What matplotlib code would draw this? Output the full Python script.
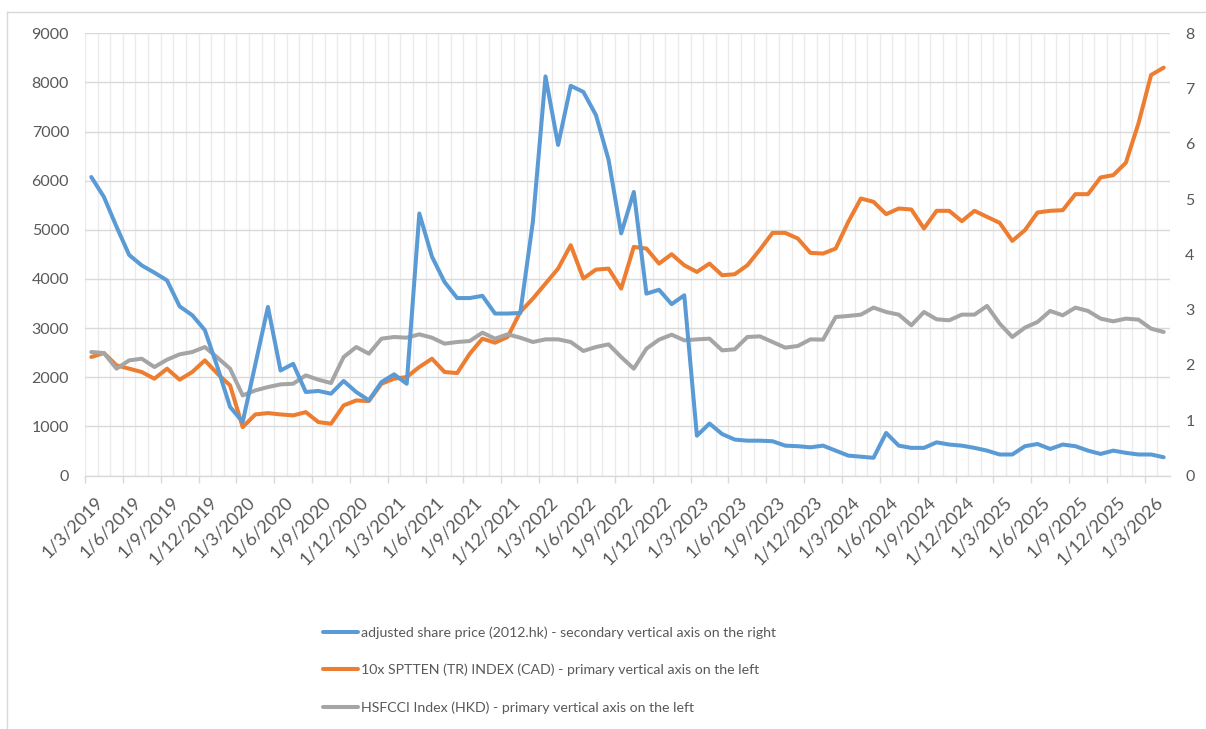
import numpy as np
import pandas as pd
import matplotlib
matplotlib.use("Agg")
import matplotlib.pyplot as plt
from matplotlib.lines import Line2D
from matplotlib.transforms import ScaledTranslation

plt.rcParams['font.family'] = ['Lato', 'DejaVu Sans']

# ---- data ----
dates = pd.date_range("2019-03-01", "2026-04-01", freq="MS")
tick_labels = [f"{d.day}/{d.month}/{d.year}" for d in dates]

share_price = [5.40, 5.04, 4.50, 3.99, 3.80, 3.67, 3.53, 3.06, 2.90, 2.63,
               1.96, 1.24, 0.97, 2.01, 3.05, 1.90, 2.02, 1.51, 1.53, 1.48,
               1.71, 1.51, 1.36, 1.69, 1.83, 1.66, 4.74, 3.96, 3.50, 3.21,
               3.21, 3.25, 2.93, 2.93, 2.94, 4.59, 7.22, 5.98, 7.05, 6.94,
               6.52, 5.71, 4.38, 5.13, 3.29, 3.36, 3.10, 3.26, 0.72, 0.94,
               0.75, 0.65, 0.63, 0.63, 0.62, 0.54, 0.53, 0.51, 0.54, 0.45,
               0.36, 0.34, 0.32, 0.77, 0.54, 0.50, 0.50, 0.60, 0.56, 0.54,
               0.50, 0.45, 0.38, 0.38, 0.53, 0.57, 0.48, 0.56, 0.53, 0.45,
               0.39, 0.45, 0.41, 0.38, 0.38, 0.33]

sptten_10x = [2411, 2493, 2242, 2174, 2106, 1970, 2174, 1950, 2106, 2343,
              2072, 1834, 985, 1243, 1270, 1243, 1223, 1290, 1087, 1053,
              1426, 1528, 1515, 1868, 1970, 2004, 2208, 2377, 2106, 2085,
              2479, 2785, 2703, 2819, 3328, 3600, 3906, 4211, 4687, 4008,
              4191, 4211, 3804, 4653, 4619, 4313, 4504, 4279, 4143, 4313,
              4076, 4096, 4279, 4599, 4938, 4938, 4823, 4531, 4517, 4619,
              5162, 5638, 5570, 5319, 5434, 5414, 5027, 5387, 5387, 5176,
              5387, 5264, 5142, 4775, 4993, 5353, 5387, 5400, 5726, 5726,
              6066, 6113, 6365, 7166, 8151, 8301]

hsfcci = [2513, 2493, 2174, 2343, 2377, 2208, 2357, 2466, 2513, 2615,
          2398, 2174, 1630, 1732, 1800, 1854, 1868, 2038, 1950, 1882,
          2411, 2615, 2479, 2785, 2819, 2805, 2873, 2805, 2683, 2717,
          2737, 2907, 2785, 2873, 2805, 2717, 2771, 2771, 2717, 2534,
          2615, 2669, 2411, 2174, 2581, 2765, 2866, 2751, 2771, 2785,
          2547, 2568, 2819, 2832, 2717, 2602, 2636, 2771, 2765, 3226,
          3247, 3274, 3417, 3328, 3274, 3057, 3328, 3179, 3159, 3274,
          3274, 3451, 3091, 2819, 3009, 3125, 3349, 3260, 3417, 3349,
          3193, 3138, 3193, 3172, 2989, 2921]

series_names = ["adjusted share price (2012.hk) - secondary vertical axis on the right",
                "10x SPTTEN (TR) INDEX (CAD) - primary vertical axis on the left",
                "HSFCCI Index (HKD) - primary vertical axis on the left"]
colors = ["#5B9BD5", "#ED7D31", "#A5A5A5"]

# ---- figure ----
W, H = 1206, 729
fig = plt.figure(figsize=(W / 100, H / 100), dpi=100)
L, R, T, B = 85, 1170, 33.3, 475.5
ax = fig.add_axes([L / W, 1 - B / H, (R - L) / W, (B - T) / H])
x = np.arange(len(dates))
n = len(dates)

lw = 2.9
kw = dict(solid_capstyle='round', solid_joinstyle='round', lw=lw)
l2, = ax.plot(x, sptten_10x, color=colors[1], **kw)
l3, = ax.plot(x, hsfcci, color=colors[2], **kw)
ax.set_xlim(-0.5, n - 0.5)
ax.set_ylim(0, 9000)
ax.tick_params(axis='both', which='both', length=0, colors='#595959')
ax.tick_params(axis='y', pad=11.5, labelsize=11.5)
ax.set_yticks(np.arange(0, 9001, 1000))
ax.set_xticks(np.arange(-0.5, n, 1), minor=True)
ax.set_xticks([])
ax.grid(axis='y', which='major', color='#D9D9D9', lw=1)
ax.grid(axis='x', which='minor', color='#EBEBEB', lw=1)
ax.set_axisbelow(True)
for s in ['top', 'left', 'right']:
    ax.spines[s].set_visible(False)
ax.spines['bottom'].set_color('#D9D9D9')
ax.spines['bottom'].set_linewidth(1)

# category labels (rotated 45 deg, every third month)
off = ScaledTranslation(9.5 / 100, -24 / 100, fig.dpi_scale_trans)
for xi, lab in zip(x[::3], tick_labels[::3]):
    ax.text(xi, 0, lab, transform=ax.get_xaxis_transform() + off,
            rotation=45, ha='right', va='center', rotation_mode='anchor',
            fontsize=13, color='#595959')

sec = ax.secondary_xaxis('bottom')
sec.set_xticks(np.arange(-0.5, n - 1, 3))
sec.tick_params(axis='x', length=5, width=1, color='#D9D9D9', labelbottom=False)
sec.spines['bottom'].set_visible(False)

ax2 = ax.twinx()
l1, = ax2.plot(x, share_price, color=colors[0], **kw)
ax2.set_ylim(0, 8)
ax2.set_yticks(np.arange(0, 9, 1))
ax2.tick_params(axis='y', length=0, colors='#595959', labelsize=11.5, pad=11)
for s in ax2.spines.values():
    s.set_visible(False)

# legend
leg = fig.legend([l1, l2, l3], series_names, loc='upper left',
                 bbox_to_anchor=(323 / W, 1 - 626 / H), frameon=False,
                 fontsize=10.15, handlelength=2.48, handletextpad=0.2,
                 labelspacing=1.78, borderpad=0, borderaxespad=0)
for t in leg.get_texts():
    t.set_color('#595959')

# chart-area border (left and top)
fig.add_artist(Line2D([7 / W, 7 / W], [0, 1 - 12 / H], color='#D9D9D9', lw=1))
fig.add_artist(Line2D([7 / W, 1], [1 - 12 / H, 1 - 12 / H], color='#D9D9D9', lw=1))

fig.savefig("out.png", dpi=100)
